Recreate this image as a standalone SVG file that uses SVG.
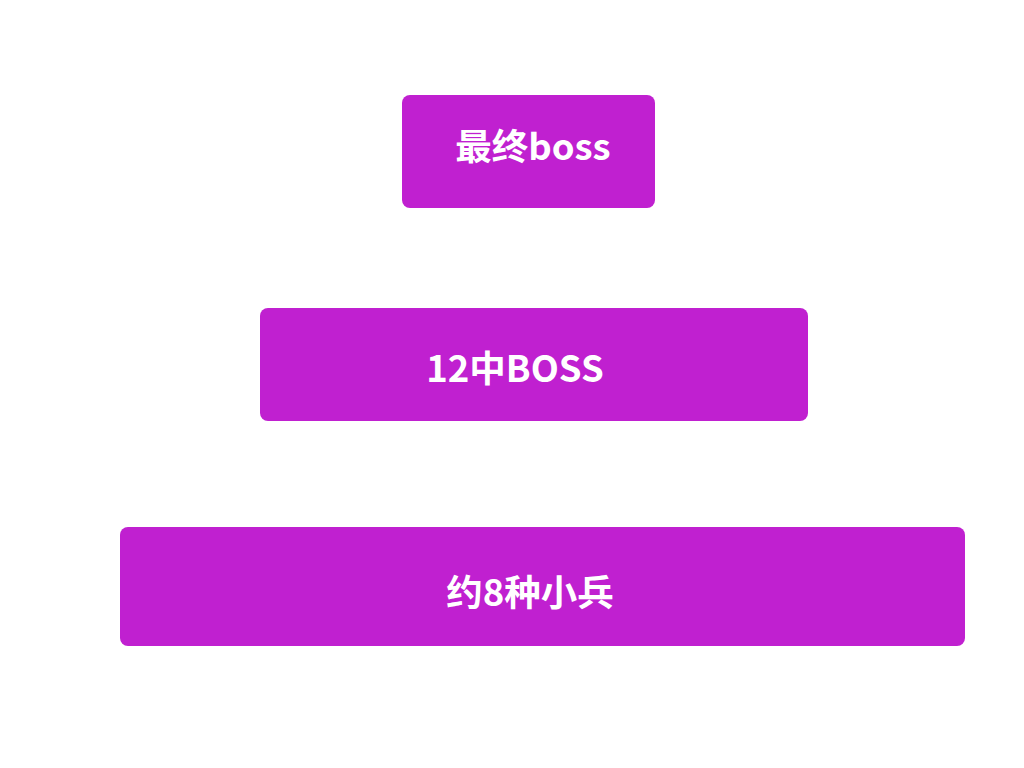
<svg xmlns="http://www.w3.org/2000/svg" width="1024" height="768" viewBox="0 0 1024 768">
<style>
.box{fill:#C020D0;}
.t{fill:#FFFFFF;font-family:"Noto Sans CJK SC","Noto Sans",sans-serif;font-weight:bold;font-size:36.5px;text-anchor:middle;}
</style>
<rect width="1024" height="768" fill="#FFFFFF"/>
<g id="connectors"></g>
<g id="node-final-boss">
<rect class="box" x="402" y="95" width="253" height="113" rx="8"/>
<text class="t" x="533" y="160">最终boss</text>
</g>
<g id="node-mid-boss">
<rect class="box" x="260" y="308" width="548" height="113" rx="8"/>
<text class="t" x="515" y="382">12中BOSS</text>
</g>
<g id="node-minions">
<rect class="box" x="120" y="527" width="845" height="119" rx="8"/>
<text class="t" x="530" y="606">约8种小兵</text>
</g>
</svg>
